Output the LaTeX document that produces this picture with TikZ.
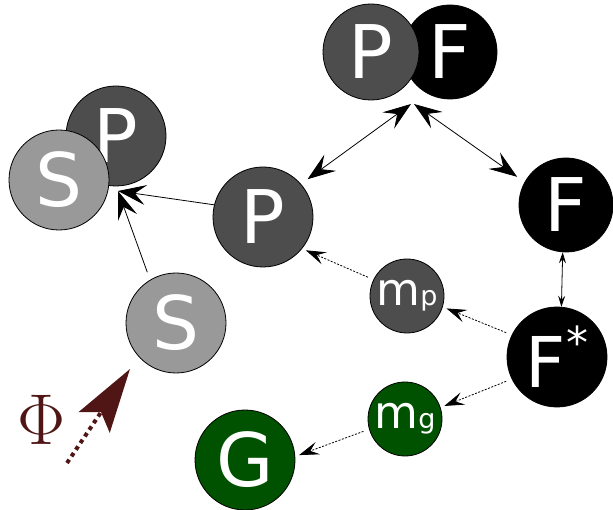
\RequirePackage{fix-cm}
\documentclass[tikz,border=0pt]{standalone}
\usepackage{fontspec}
\setmainfont{DejaVu Sans}
\usetikzlibrary{arrows.meta}
\definecolor{pgray}{HTML}{4D4D4D}
\definecolor{sgray}{HTML}{999999}
\definecolor{ggreen}{HTML}{005200}
\definecolor{phired}{HTML}{501616}

\begin{document}
\begin{tikzpicture}[x=1pt,y=-1pt]
\tikzstyle{ball}=[circle, draw=black, line width=0.8pt, text=white, inner sep=0pt, minimum size=100pt, font=\fontsize{74}{74}\selectfont]
\tikzstyle{small ball}=[ball, minimum size=74pt, font=\fontsize{45}{45}\selectfont]
\tikzstyle{link}=[line width=0.8pt, >={Stealth[length=28pt,width=20pt,inset=11pt]}]
\tikzstyle{short link}=[line width=0.8pt, >={Stealth[length=11pt,width=7pt,inset=4pt]}]
\tikzstyle{dotlink}=[line width=0.8pt, dash pattern=on 2pt off 1.5pt, shorten <=6pt, shorten >=4pt, >={Stealth[length=20pt,width=13pt,inset=8pt]}]
\tikzstyle{flux}=[phired, line width=4pt, dash pattern=on 4pt off 4pt, -{Stealth[length=64pt,width=37pt,inset=12pt]}]

\useasboundingbox (0,0) rectangle (613,510);

% bound pairs
\node[ball, fill=black, minimum size=94pt] (PFf) at (450,52) {F};
\node[ball, fill=pgray, minimum size=96pt] (PFp) at (371,52) {P};
\node[ball, fill=pgray] (SPp) at (116,136) {P};
\node[ball, fill=sgray] (SPs) at (59,180) {S};
\coordinate (pfl) at (411,104);
\coordinate (pfr) at (414,104);
\coordinate (spj) at (118,191);

% free species
\node[ball, fill=pgray] (Pm) at (263,217) {P};
\node[ball, fill=black, minimum size=94pt] (Fr) at (566,205) {F};
\node[ball, fill=sgray] (S) at (176,323) {S};
\node[ball, fill=black, font=\fontsize{70}{70}\selectfont] (Fs) at (557,357) {F\raisebox{29pt}{\fontsize{44}{44}\selectfont *}};
\node[ball, fill=ggreen] (G) at (245,460) {G};
\node[small ball, fill=pgray] (mp) at (407,296) {m{\fontsize{27}{27}\selectfont p}};
\node[small ball, fill=ggreen] (mg) at (405,419) {m{\fontsize{27}{27}\selectfont g}};

% input flux
\node[text=phired, font=\fontsize{72}{72}\selectfont] (phi) at (42,420) {$\Phi$};
\coordinate (phitail) at (67,463);
\coordinate (phitip) at (130,369);
\draw[flux] (phitail) -- (phitip);

% reactions
\draw[link,<->, shorten <=8pt] (Pm.41) -- (pfl);
\draw[link,<->, shorten <=9pt] (Fr.151) -- (pfr);
\draw[link,->] (Pm.166) -- (spj);
\draw[link,->, shorten <=8pt] (S.121) -- (spj);
\draw[short link,<->] (Fr.-94) -- (Fs.85);
\foreach \a/\b in {Fs.154/mp.-17, mp.154/Pm.-39, Fs.206/mg.18, mg.196/G.4}{\draw[dotlink,->] (\a) -- (\b);}
\end{tikzpicture}
\end{document}
